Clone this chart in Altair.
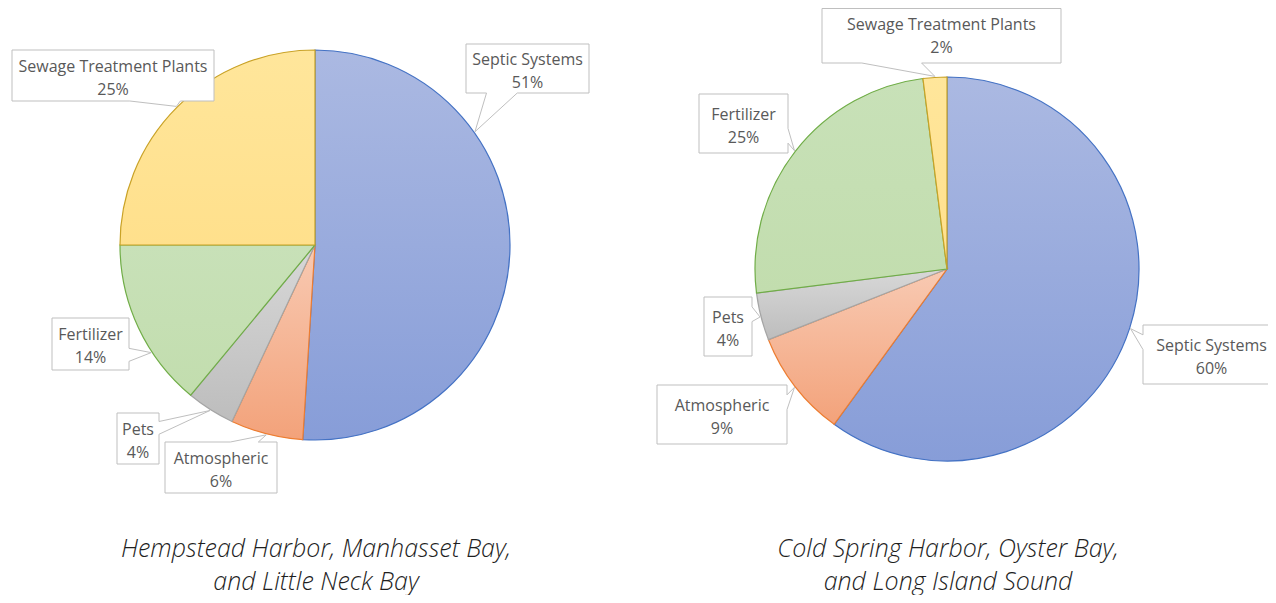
import math
import altair as alt
import pandas as pd

# ---------------- data ----------------
categories = ["Septic Systems", "Atmospheric", "Pets", "Fertilizer", "Sewage Treatment Plants"]
west_values = [51, 6, 4, 14, 25]
east_values = [60, 9, 4, 25, 2]
west_title = ["Hempstead Harbor, Manhasset Bay,", "and Little Neck Bay"]
east_title = ["Cold Spring Harbor, Oyster Bay,", "and Long Island Sound"]

# ---------------- styles ----------------
FILL_TOP = {"Septic Systems": "#ABB9E2", "Atmospheric": "#F8CAB3", "Pets": "#D8D8D8",
            "Fertilizer": "#C8E1B8", "Sewage Treatment Plants": "#FFE69B"}
FILL_BOT = {"Septic Systems": "#879DD8", "Atmospheric": "#F3A27A", "Pets": "#BDBDBD",
            "Fertilizer": "#C2DDAE", "Sewage Treatment Plants": "#FFE08C"}
STROKE = {"Septic Systems": "#4472C4", "Atmospheric": "#ED7D31", "Pets": "#A5A5A5",
          "Fertilizer": "#70AD47", "Sewage Treatment Plants": "#C9A227"}
LABEL_FONT = "Open Sans"
TEXT_COLOR = "#595959"
BOX_STROKE = "#BFBFBF"
LABEL_SIZE = 16
LABEL_LINE = 23
TITLE_SIZE = 25
TITLE_LINE = 33

# ---------------- layout (page pixels) ----------------
W, H = 1260, 587
XS = alt.Scale(domain=[8, 8 + W], nice=False, zero=False)
YS = alt.Scale(domain=[8, 8 + H], nice=False, zero=False, reverse=True)

pies = [
    dict(values=west_values, title=west_title, cx=315, cy=245, r=195, title_y=565,
         boxes={"Septic Systems": (466, 589, 44, 93),
                "Atmospheric": (165, 277, 442, 493),
                "Pets": (117, 159, 413, 464),
                "Fertilizer": (52, 129, 318, 370),
                "Sewage Treatment Plants": (12, 214, 50, 101)},
         tip_override={"Septic Systems": 54.7, "Fertilizer": 236.7}),
    dict(values=east_values, title=east_title, cx=947, cy=269, r=192, title_y=565,
         boxes={"Septic Systems": (1143, 1280, 325, 384),
                "Atmospheric": (657, 787, 385, 444),
                "Pets": (704, 752, 297, 356),
                "Fertilizer": (699, 788, 94, 153),
                "Sewage Treatment Plants": (822, 1061, 5, 63)},
         tip_override={}),
]


def callout_path(hw, hh, tx, ty):
    """Rectangle (half sizes hw, hh) with a wedge pointing to (tx, ty), centred at 0,0."""
    tl, tr, br, bl = (-hw, -hh), (hw, -hh), (hw, hh), (-hw, hh)
    pts = [tl]
    horiz = abs(tx) * hh <= abs(ty) * hw  # wedge on top/bottom edge
    if horiz:
        f = (7 / 12, 10 / 12) if tx > 0 else (2 / 12, 5 / 12)
        a, b = -hw + 2 * hw * f[0], -hw + 2 * hw * f[1]
    else:
        f = (7 / 12, 10 / 12) if ty > 0 else (2 / 12, 5 / 12)
        a, b = -hh + 2 * hh * f[0], -hh + 2 * hh * f[1]
    if horiz and ty < 0:
        pts += [(a, -hh), (tx, ty), (b, -hh)]
    pts.append(tr)
    if not horiz and tx > 0:
        pts += [(hw, a), (tx, ty), (hw, b)]
    pts.append(br)
    if horiz and ty > 0:
        pts += [(b, hh), (tx, ty), (a, hh)]
    pts.append(bl)
    if not horiz and tx < 0:
        pts += [(-hw, b), (tx, ty), (-hw, a)]
    return "M" + " L".join(f"{x:.2f},{y:.2f}" for x, y in pts) + " Z"


layers = []
for pie in pies:
    df = pd.DataFrame({"category": categories, "value": pie["values"],
                       "order": list(range(len(categories)))})
    base = alt.Chart(df).transform_window(
        end="sum(value)", sort=[alt.SortField("order")], frame=[None, 0]
    ).transform_calculate(start="datum.end - datum.value")

    for cat in categories:
        grad = alt.Gradient(
            gradient="linear", x1=0, y1=0, x2=0, y2=1,
            stops=[alt.GradientStop(color=FILL_TOP[cat], offset=0),
                   alt.GradientStop(color=FILL_BOT[cat], offset=1)])
        layers.append(
            base.transform_filter(alt.datum.category == cat)
            .mark_arc(fill=grad, stroke=STROKE[cat], strokeWidth=1.2, radius=pie["r"])
            .encode(
                theta=alt.Theta("start:Q", scale=alt.Scale(domain=[0, 100], range=[0, 2 * math.pi])),
                theta2="end:Q",
                x=alt.XDatum(pie["cx"], type="quantitative", scale=XS, axis=None),
                y=alt.YDatum(pie["cy"], type="quantitative", scale=YS, axis=None),
            )
        )

    # callout boxes
    rows = []
    cum = 0
    for cat, v in zip(categories, pie["values"]):
        mid = (cum + v / 2) / 100 * 360
        cum += v
        ang = math.radians(pie["tip_override"].get(cat, mid))
        tipx = pie["cx"] + (pie["r"] + 1) * math.sin(ang)
        tipy = pie["cy"] - (pie["r"] + 1) * math.cos(ang)
        x0, x1, y0, y1 = pie["boxes"][cat]
        tx_c, ty_c = (x0 + x1) / 2, (y0 + y1) / 2
        y0 = max(y0, 8.5)  # keep the top border inside the drawing
        bx, by = (x0 + x1) / 2, (y0 + y1) / 2
        rows.append({"category": cat, "value": v, "bx": bx, "by": by,
                     "lx": tx_c, "ly": ty_c,
                     "path": callout_path((x1 - x0) / 2, (y1 - y0) / 2, tipx - bx, tipy - by)})
    lab = pd.DataFrame(rows)
    layers.append(
        alt.Chart(lab).mark_point(size=4, filled=True, fill="white", stroke=BOX_STROKE,
                                  strokeWidth=1, opacity=1)
        .encode(x=alt.X("bx:Q", scale=XS, axis=None),
                y=alt.Y("by:Q", scale=YS, axis=None),
                shape=alt.Shape("path:N", scale=None, legend=None))
    )
    layers.append(
        alt.Chart(lab).transform_calculate(label="datum.category + '\\n' + datum.value + '%'")
        .mark_text(font=LABEL_FONT, fontSize=LABEL_SIZE, color=TEXT_COLOR, lineBreak="\n",
                   lineHeight=LABEL_LINE, baseline="middle", align="center",
                   dy=-LABEL_LINE / 2 + 2.5)
        .encode(x=alt.X("lx:Q", scale=XS, axis=None),
                y=alt.Y("ly:Q", scale=YS, axis=None),
                text="label:N")
    )
    # title under the pie
    tdf = pd.DataFrame({"title": ["\n".join(pie["title"])]})
    layers.append(
        alt.Chart(tdf).mark_text(font=LABEL_FONT, fontSize=TITLE_SIZE, fontStyle="italic", fontWeight=300,
                                 color="#1F1F1F", lineBreak="\n", lineHeight=TITLE_LINE,
                                 baseline="middle", align="center", dy=-TITLE_LINE / 2)
        .encode(x=alt.XDatum(pie["cx"] + 1, type="quantitative", scale=XS, axis=None),
                y=alt.YDatum(pie["title_y"], type="quantitative", scale=YS, axis=None),
                text="title:N")
    )

chart = alt.layer(*layers).properties(
    width=W, height=H, padding=0, autosize="none"
).configure_view(stroke=None)

chart.save("out.html", embed_options={"renderer": "svg", "actions": False})
